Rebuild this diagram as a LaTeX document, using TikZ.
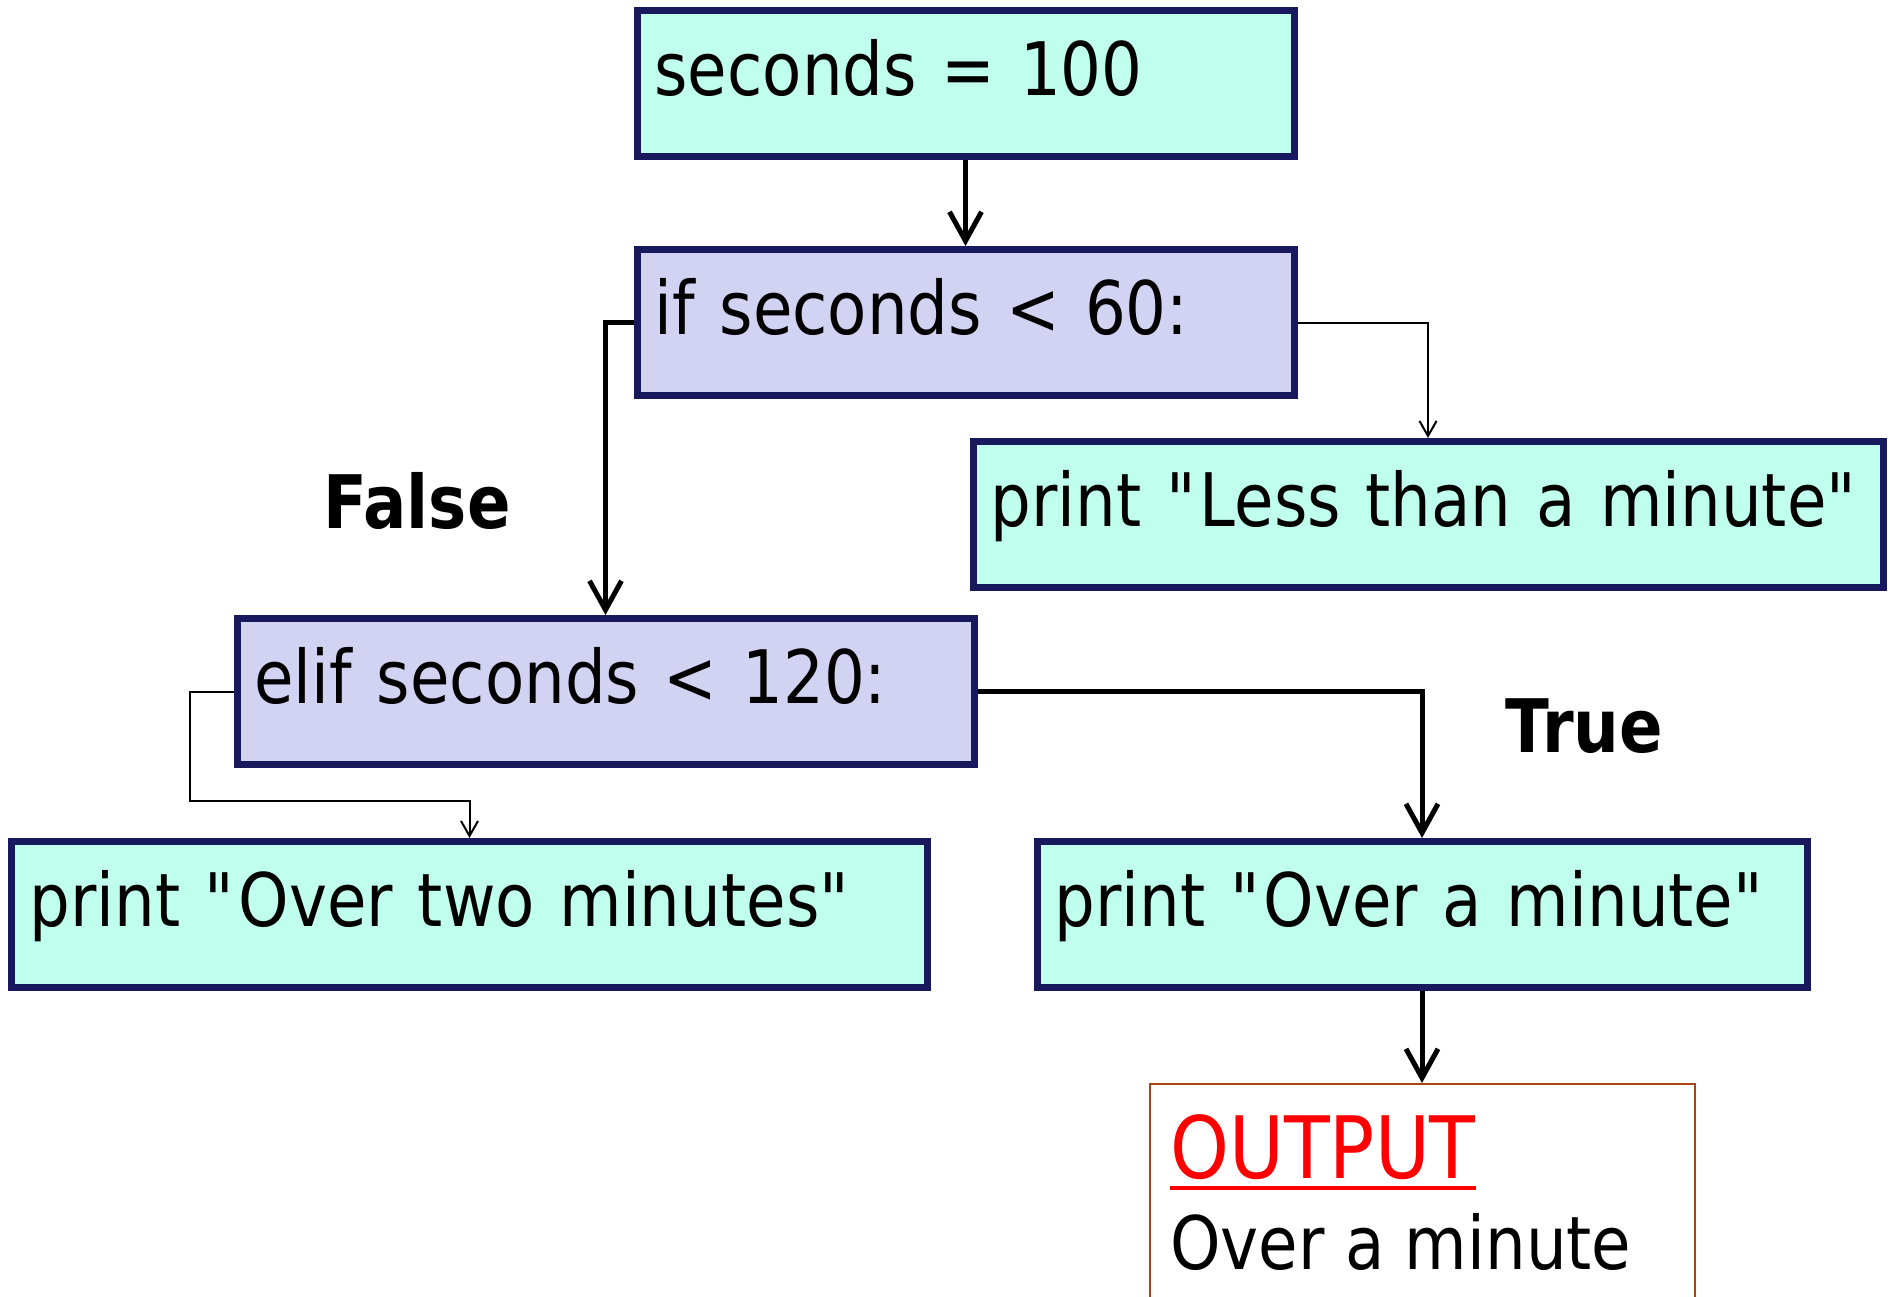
\documentclass[tikz,border=0pt]{standalone}
\usepackage{fontspec}
\setmainfont{DejaVu Sans}[FakeStretch=0.87]
\usetikzlibrary{arrows.meta, calc}
\definecolor{stmtfill}{RGB}{192,255,238}
\definecolor{testfill}{RGB}{210,210,242}
\definecolor{boxline}{RGB}{24,24,94}
\definecolor{outedge}{RGB}{170,68,20}
\tikzset{
  codebox/.style={rectangle, draw=boxline, line width=0.14cm, fill=stmtfill,
    inner xsep=0.35cm, inner ysep=0pt, text height=1.7cm, text depth=1.22cm,
    align=left, font=\fontsize{42}{50}\selectfont},
  testbox/.style={codebox, fill=testfill},
  flow/.style={line width=0.1cm, -{Straight Barb[length=0.58cm, width=0.64cm]}},
  branch/.style={line width=0.04cm, -{Straight Barb[length=0.3cm, width=0.34cm]}},
  tag/.style={anchor=base west, inner sep=0pt, font=\bfseries\fontsize{42}{50}\selectfont},
  outtext/.style={anchor=base west, inner sep=0pt, font=\fontsize{42}{50}\selectfont}
}
\begin{document}
\begin{tikzpicture}
\useasboundingbox (0,0) rectangle (37.9,-25.92);
\clip (0,0) rectangle (37.9,-25.92);
\node[codebox, text width=12.44cm] (b1) at (19.31,-1.66) {seconds = 100};
\node[testbox, text width=12.44cm] (b2) at (19.31,-6.45) {if seconds < 60:};
\node[codebox, text width=17.5cm] (b3) at (28.56,-10.29) {print \textquotedbl Less than a minute\textquotedbl};
\node[testbox, text width=14.04cm] (b4) at (12.11,-13.83) {elif seconds < 120:};
\node[codebox, text width=17.6cm] (b5) at (9.39,-18.29) {print \textquotedbl Over two minutes\textquotedbl};
\node[codebox, text width=14.7cm] (b6) at (28.44,-18.29) {print \textquotedbl Over a minute\textquotedbl};
\node[draw=outedge, line width=0.04cm, minimum width=10.9cm, minimum height=5cm,
  inner sep=0pt, anchor=north] (out) at (28.44,-21.66) {};
\node[outtext, red, font=\fontsize{49}{58}\selectfont] (outhead) at (23.4,-23.56) {OUTPUT};
\node[outtext] (outbody) at (23.4,-25.38) {Over a minute};
\draw[red, line width=0.09cm] ([yshift=-0.2cm]outhead.base west) -- ([yshift=-0.2cm]outhead.base east);
\node[tag] (nolabel) at (6.46,-10.56) {False};
\node[tag] (yeslabel) at (30.1,-15.04) {True};
\coordinate (elbow) at (3.8,-16.02);
\draw[flow] (b1) -- (b2);
\draw[flow] (b2.west) -| (b4.north);
\draw[branch] (b2.east) -| (b3.north);
\draw[flow] (b4.east) -| (b6.north);
\draw[branch] (b4.west) -| (elbow) -| (b5.north);
\draw[flow] (b6) -- (out);
\end{tikzpicture}
\end{document}
